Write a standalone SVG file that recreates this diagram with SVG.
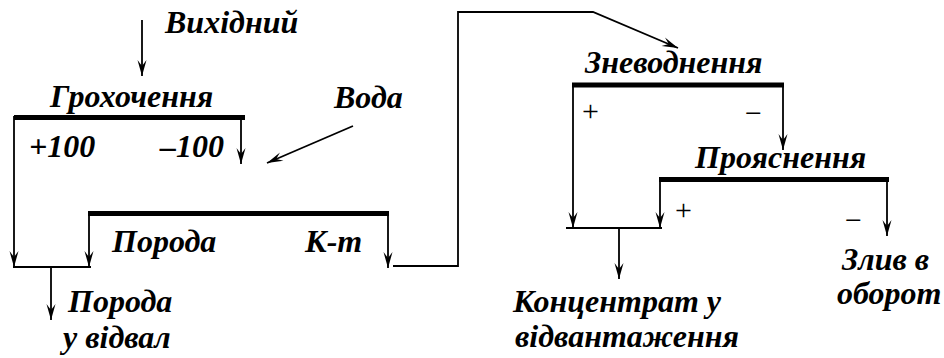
<svg xmlns="http://www.w3.org/2000/svg" width="944" height="358" viewBox="0 0 944 358">
<defs>
<marker id="ah" viewBox="-16 -6 17 12" refX="0" refY="0" markerWidth="17" markerHeight="12" markerUnits="userSpaceOnUse" orient="auto" overflow="visible">
<path d="M0,0 L-16,-4.5 L-10,0 L-16,4.5 Z" fill="#000"/>
</marker>
</defs>
<rect width="944" height="358" fill="#fff"/>
<g id="connectors" fill="none" stroke="#000" stroke-width="1.8">
<line marker-end="url(#ah)" x1="142" y1="20" x2="142" y2="76"/>
<line marker-end="url(#ah)" x1="14" y1="116" x2="14" y2="267"/>
<line marker-end="url(#ah)" x1="241" y1="118" x2="241" y2="164"/>
<line marker-end="url(#ah)" x1="353" y1="126" x2="267" y2="163"/>
<line marker-end="url(#ah)" x1="89" y1="212" x2="89" y2="267"/>
<line marker-end="url(#ah)" x1="388" y1="212" x2="388" y2="268"/>
<line x1="13" y1="267" x2="91" y2="267"/>
<line marker-end="url(#ah)" x1="51" y1="267" x2="51" y2="320"/>
<polyline marker-end="url(#ah)" points="393,266 458,266 458,12 593,12 678,48"/>
<line marker-end="url(#ah)" x1="573" y1="84" x2="573" y2="228"/>
<line marker-end="url(#ah)" x1="783" y1="85" x2="783" y2="150"/>
<line marker-end="url(#ah)" x1="660" y1="177" x2="660" y2="228"/>
<line marker-end="url(#ah)" x1="887" y1="179" x2="887" y2="236"/>
<line x1="566" y1="228" x2="662" y2="228"/>
<line marker-end="url(#ah)" x1="619" y1="228" x2="619" y2="279"/>
</g>
<g font-family="Liberation Serif" font-weight="bold" font-style="italic" font-size="32" fill="#000">
<g id="source"><text x="165" y="33">Вихідний</text></g>
<g id="grokhochennia">
<line x1="14" y1="117.5" x2="245" y2="117.5" stroke="#000" stroke-width="5"/>
<text x="50" y="107">Грохочення</text>
<text x="29" y="157">+100</text>
<text x="160" y="157">–100</text>
</g>
<g id="voda"><text x="334" y="108">Вода</text></g>
<g id="separation">
<line x1="88" y1="213.5" x2="389" y2="213.5" stroke="#000" stroke-width="5"/>
<text x="112" y="252">Порода</text>
<text x="305" y="252">К-т</text>
</g>
<g id="vidval">
<text x="68" y="312">Порода</text>
<text x="63" y="348">у відвал</text>
</g>
<g id="znevodnennia">
<line x1="572" y1="85" x2="784" y2="85" stroke="#000" stroke-width="5"/>
<text x="585" y="73">Зневоднення</text>
<text x="582" y="121" font-weight="normal" font-style="normal" font-size="30">+</text>
<text x="745" y="123" font-weight="normal" font-style="normal" font-size="30">−</text>
</g>
<g id="proiasnennia">
<line x1="659" y1="179.5" x2="889" y2="179.5" stroke="#000" stroke-width="5"/>
<text x="695" y="168">Прояснення</text>
<text x="675" y="220" font-weight="normal" font-style="normal" font-size="30">+</text>
<text x="845" y="230" font-weight="normal" font-style="normal" font-size="30">−</text>
</g>
<g id="kontsentrat">
<text x="513" y="312">Концентрат у</text>
<text x="515" y="347">відвантаження</text>
</g>
<g id="zliv">
<text x="842" y="270">Злив в</text>
<text x="837" y="304">оборот</text>
</g>
</g>
</svg>
